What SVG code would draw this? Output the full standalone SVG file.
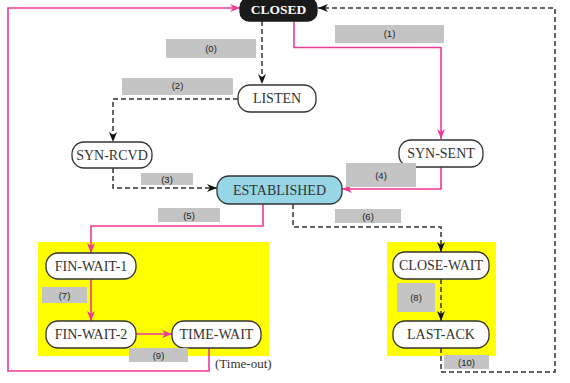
<svg xmlns="http://www.w3.org/2000/svg" width="570" height="383" viewBox="0 0 570 383">
  <style>
    .zone { fill: #ffff00; }
    .node rect { fill: #ffffff; stroke: #333333; stroke-width: 1.3; }
    .node text { font-family: "Liberation Serif", "Times New Roman", serif; font-size: 14px; fill: #333333; text-anchor: middle; dominant-baseline: central; }
    #closed rect { fill: #1a1a1a; stroke: #1a1a1a; }
    #closed text { fill: #ffffff; font-weight: bold; font-size: 13.5px; }
    #established rect { fill: #96d6e7; }
    .pink { fill: none; stroke: #ee3a96; stroke-width: 1.6; marker-end: url(#arrowPink); }
    .dash { fill: none; stroke: #333333; stroke-width: 1.5; stroke-dasharray: 5 3; marker-end: url(#arrowBlack); }
    .label rect { fill: #c4c4c4; }
    .label text { font-family: "Liberation Sans", Arial, sans-serif; font-size: 9.5px; fill: #222222; text-anchor: middle; dominant-baseline: central; }
    .note { font-family: "Liberation Serif", "Times New Roman", serif; font-size: 13px; fill: #333333; }
  </style>
  <defs>
    <marker id="arrowPink" viewBox="0 0 10 10" refX="10" refY="5" markerWidth="10" markerHeight="10" markerUnits="userSpaceOnUse" orient="auto">
      <path d="M0,1 L10,5 L0,9 L3,5 Z" fill="#ee3a96"/>
    </marker>
    <marker id="arrowBlack" viewBox="0 0 10 10" refX="10" refY="5" markerWidth="10" markerHeight="10" markerUnits="userSpaceOnUse" orient="auto">
      <path d="M0,1 L10,5 L0,9 L3,5 Z" fill="#111111"/>
    </marker>
  </defs>

  <!-- closing-phase zones -->
  <rect class="zone" x="38" y="242" width="231" height="114"/>
  <rect class="zone" x="387" y="242" width="109" height="114"/>

  <!-- transitions -->
  <g id="connectors">
    <path class="dash" d="M262,21 V84"/>
    <path class="pink" d="M294,21 V47.5 H441 V139"/>
    <path class="dash" d="M238,99 H113 V142"/>
    <path class="dash" d="M113,168 V188 H217"/>
    <path class="pink" d="M441,167 V189 H342"/>
    <path class="pink" d="M263,204 V226 H91 V253"/>
    <path class="dash" d="M293,204 V227 H441 V252"/>
    <path class="pink" d="M91,279 V321"/>
    <path class="dash" d="M441,279 V321"/>
    <path class="pink" d="M136,334 H172"/>
    <path class="pink" d="M209,348 V371 H8 V8 H240"/>
    <path class="dash" d="M441,348 V372 H555 V8 H318"/>
  </g>

  <!-- states -->
  <g id="closed" class="node"><rect x="240" y="-2" width="77" height="23" rx="9"/><text x="278.5" y="9.5">CLOSED</text></g>
  <g id="listen" class="node"><rect x="238" y="85" width="78" height="27" rx="12"/><text x="277" y="98.5">LISTEN</text></g>
  <g id="syn-rcvd" class="node"><rect x="72" y="142" width="80" height="26" rx="12"/><text x="112" y="155">SYN-RCVD</text></g>
  <g id="syn-sent" class="node"><rect x="399" y="140" width="84" height="27" rx="12"/><text x="441" y="153.5">SYN-SENT</text></g>
  <g id="established" class="node"><rect x="217" y="176" width="125" height="28" rx="12"/><text x="279.5" y="190">ESTABLISHED</text></g>
  <g id="fin-wait-1" class="node"><rect x="46" y="253" width="90" height="26" rx="12"/><text x="91" y="266">FIN-WAIT-1</text></g>
  <g id="fin-wait-2" class="node"><rect x="46" y="321" width="90" height="27" rx="12"/><text x="91" y="334.5">FIN-WAIT-2</text></g>
  <g id="time-wait" class="node"><rect x="172" y="321" width="89" height="27" rx="12"/><text x="216.5" y="334.5">TIME-WAIT</text></g>
  <g id="close-wait" class="node"><rect x="393" y="252" width="96" height="27" rx="12"/><text x="441" y="265.5">CLOSE-WAIT</text></g>
  <g id="last-ack" class="node"><rect x="393" y="321" width="96" height="27" rx="12"/><text x="441" y="334.5">LAST-ACK</text></g>

  <!-- transition labels -->
  <g id="label0" class="label"><rect x="166" y="39" width="90" height="19"/><text x="211" y="48.5">(0)</text></g>
  <g id="label1" class="label"><rect x="335" y="25" width="109" height="18"/><text x="389.5" y="33">(1)</text></g>
  <g id="label2" class="label"><rect x="122" y="78" width="111" height="17"/><text x="177.5" y="85">(2)</text></g>
  <g id="label3" class="label"><rect x="141" y="173" width="52" height="12"/><text x="167" y="179">(3)</text></g>
  <g id="label4" class="label"><rect x="346" y="163" width="70" height="24"/><text x="381" y="175">(4)</text></g>
  <g id="label5" class="label"><rect x="158" y="208" width="62" height="14"/><text x="189" y="215">(5)</text></g>
  <g id="label6" class="label"><rect x="335" y="209" width="66" height="14"/><text x="368" y="216">(6)</text></g>
  <g id="label7" class="label"><rect x="42" y="287" width="45" height="16"/><text x="64.5" y="295">(7)</text></g>
  <g id="label8" class="label"><rect x="397" y="283" width="38" height="29"/><text x="416" y="297.5">(8)</text></g>
  <g id="label9" class="label"><rect x="129" y="348" width="59" height="14"/><text x="158.5" y="355">(9)</text></g>
  <g id="label10" class="label"><rect x="444" y="355" width="45" height="14"/><text x="466.5" y="362">(10)</text></g>

  <text class="note" x="215" y="368">(Time-out)</text>
</svg>
